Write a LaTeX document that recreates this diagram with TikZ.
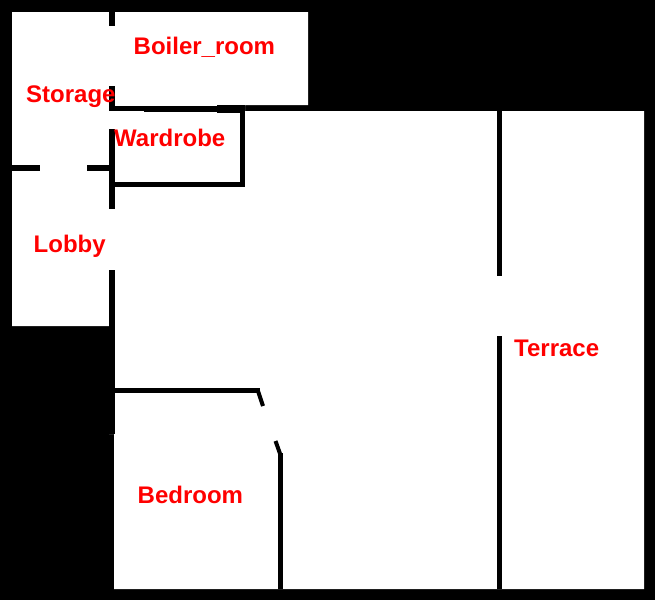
\documentclass[tikz,border=0pt]{standalone}
\usepackage{fontspec}
\setmainfont{Liberation Sans}

\tikzset{
  wall/.style={fill=black},
  stub/.style={draw=black, line width=4pt},
  roomlabel/.style={text=red, font=\fontsize{24}{24}\selectfont\bfseries, inner sep=0pt, anchor=base west},
}

\begin{document}
\begin{tikzpicture}[x=1pt, y=-1pt]
  \useasboundingbox (0,0) rectangle (655,600);
  \fill[wall] (0,0) rectangle (655,600);

  % floor
  \fill[white] (12,12) -- (308,12) -- (308,105) -- (245,105) -- (245,111) -- (644,111) -- (644,589)
    -- (114,589) -- (114,434) -- (109,434) -- (109,326) -- (12,326) -- cycle;

  % left wall
  \fill[wall] (109,12) rectangle (115,26);
  \fill[wall] (109,86) rectangle (115,111);
  \fill[wall] (109,129) rectangle (115,209);
  \fill[wall] (109,270) rectangle (115,434);

  % boiler room and wardrobe
  \fill[wall] (109,106) rectangle (144,111);
  \fill[wall] (144,106) rectangle (217,112);
  \fill[wall] (217,105) rectangle (245,113);
  \fill[wall] (240,105) rectangle (245,187);
  \fill[wall] (115,182) rectangle (245,187);

  % storage
  \fill[wall] (12,165) rectangle (40,171);
  \fill[wall] (87,165) rectangle (109,171);

  % bedroom
  \fill[wall] (115,388) rectangle (260,393);
  \draw[stub] (258,391) -- (263,406);
  \draw[stub] (275.5,441) -- (280.5,455);
  \fill[wall] (278,453) rectangle (283,589);

  % terrace
  \fill[wall] (497,111) rectangle (502,276);
  \fill[wall] (497,336) rectangle (502,589);

  \node[roomlabel] (boiler) at (133.5,54) {Boiler\_room};
  \node[roomlabel] (storage) at (26,102) {Storage};
  \node[roomlabel] (wardrobe) at (114,146) {Wardrobe};
  \node[roomlabel] (lobby) at (33.5,252) {Lobby};
  \node[roomlabel] (terrace) at (514,356) {Terrace};
  \node[roomlabel] (bedroom) at (137.5,503) {Bedroom};
\end{tikzpicture}
\end{document}
